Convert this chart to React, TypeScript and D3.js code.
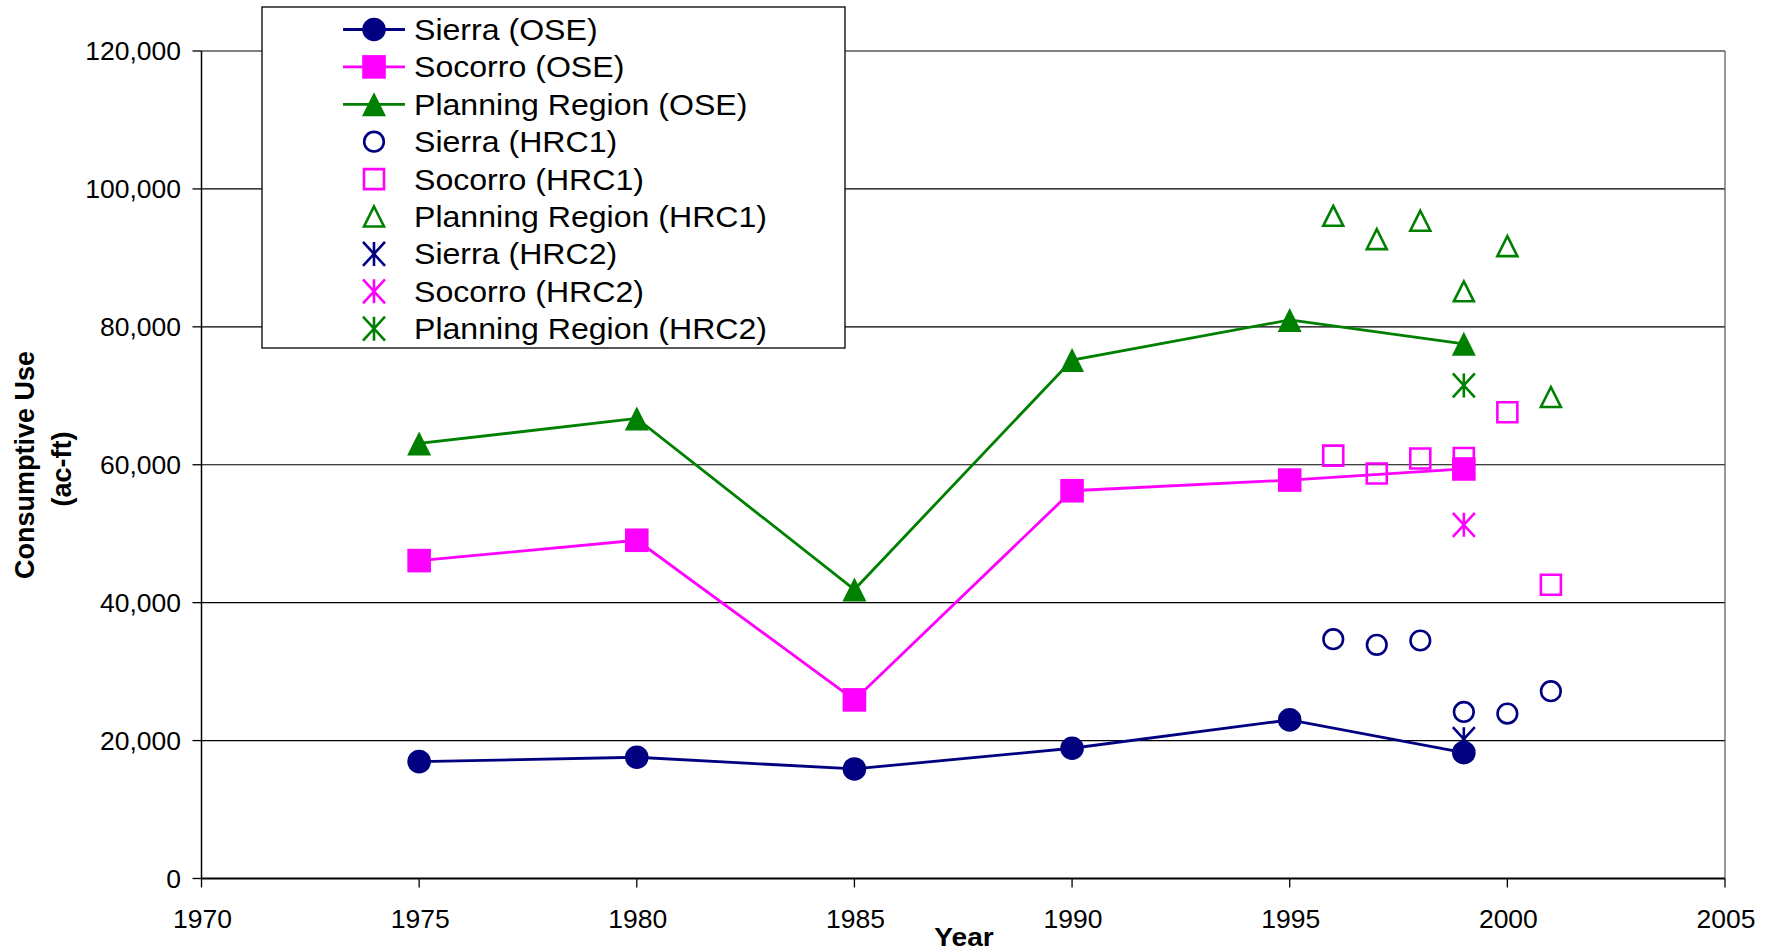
import React from "react";
import * as d3 from "d3";

// ---- data ----
const oseYears = [1975, 1980, 1985, 1990, 1995, 1999];
const sierraOSE = [16950, 17580, 15890, 18890, 23000, 18250];
const socorroOSE = [46100, 49050, 25900, 56230, 57780, 59390];
const planningOSE = [63090, 66720, 41910, 75190, 81000, 77530];

const hrc1Years = [1996, 1997, 1998, 1999, 2000, 2001];
const sierraHRC1 = [34710, 33880, 34510, 24160, 23920, 27160];
const socorroHRC1 = [61330, 58740, 60900, 60970, 67620, 42590];
const planningHRC1 = [96100, 92720, 95380, 85150, 91700, 69820];

const hrc2Years = [1999];
const sierraHRC2 = [20200];
const socorroHRC2 = [51290];
const planningHRC2 = [71510];

const xTicks = [1970, 1975, 1980, 1985, 1990, 1995, 2000, 2005];
const yTicks = [0, 20000, 40000, 60000, 80000, 100000, 120000];

const legendLabels = [
  "Sierra (OSE)",
  "Socorro (OSE)",
  "Planning Region (OSE)",
  "Sierra (HRC1)",
  "Socorro (HRC1)",
  "Planning Region (HRC1)",
  "Sierra (HRC2)",
  "Socorro (HRC2)",
  "Planning Region (HRC2)",
];

const NAVY = "#000080";
const MAGENTA = "#FF00FF";
const GREEN = "#008000";

type Shape = "circle" | "square" | "triangle";

const W = 1775;
const H = 951;
const FONT = "'Liberation Sans', Arial, sans-serif";

const x = d3.scaleLinear().domain([1970, 2005]).range([201.5, 1725]);
const y = d3.scaleLinear().domain([0, 120000]).range([878.5, 51]);

function markerPath(shape: Shape, filled: boolean): string {
  const p = d3.path();
  if (shape === "circle") {
    const r = filled ? 11.8 : 9.8;
    p.arc(0, 0, r, 0, Math.PI * 2);
  } else if (shape === "square") {
    const h = filled ? 11.8 : 10;
    p.rect(-h, -h, 2 * h, 2 * h);
  } else {
    const h = filled ? 12 : 10;
    p.moveTo(0, -h);
    p.lineTo(h, h);
    p.lineTo(-h, h);
    p.closePath();
  }
  return p.toString();
}

function Marker({ cx, cy, shape, filled, color }: { cx: number; cy: number; shape: Shape; filled: boolean; color: string }) {
  return (
    <path
      d={markerPath(shape, filled)}
      transform={`translate(${cx},${cy})`}
      fill={filled ? color : "none"}
      stroke={color}
      strokeWidth={filled ? 0 : 2.6}
    />
  );
}

function Star({ cx, cy, color }: { cx: number; cy: number; color: string }) {
  const hw = 11;
  const hh = 12;
  const p = d3.path();
  p.moveTo(-hw, -hh);
  p.lineTo(hw, hh);
  p.moveTo(hw, -hh);
  p.lineTo(-hw, hh);
  p.moveTo(0, -hh);
  p.lineTo(0, hh);
  return <path d={p.toString()} transform={`translate(${cx},${cy})`} stroke={color} strokeWidth={2.6} fill="none" />;
}

function SText({ x, y, sx, anchor, size, weight, children }: { x: number; y: number; sx: number; anchor?: string; size: number; weight?: string; children: React.ReactNode }) {
  return (
    <text
      transform={`translate(${x},${y}) scale(${sx},1)`}
      textAnchor={anchor || "start"}
      fontFamily={FONT}
      fontSize={size}
      fontWeight={weight || "normal"}
      fill="#000"
    >
      {children}
    </text>
  );
}

const line = d3
  .line<[number, number]>()
  .x((d) => x(d[0]))
  .y((d) => y(d[1]));

export default function App() {
  const oseSeries = [
    { vals: sierraOSE, color: NAVY, shape: "circle" as Shape },
    { vals: socorroOSE, color: MAGENTA, shape: "square" as Shape },
    { vals: planningOSE, color: GREEN, shape: "triangle" as Shape },
  ];
  const hrc1Series = [
    { vals: sierraHRC1, color: NAVY, shape: "circle" as Shape },
    { vals: socorroHRC1, color: MAGENTA, shape: "square" as Shape },
    { vals: planningHRC1, color: GREEN, shape: "triangle" as Shape },
  ];
  const hrc2Series = [
    { vals: sierraHRC2, color: NAVY },
    { vals: socorroHRC2, color: MAGENTA },
    { vals: planningHRC2, color: GREEN },
  ];

  const [x0, x1] = x.range();
  const [y0, y1] = y.range();

  const legX = 262;
  const legY = 7;
  const legW = 583;
  const legH = 341;
  const rowY0 = 29.5;
  const rowStep = 37.4;
  const symX = 374;

  return (
    <svg
      width={W}
      height={H}
      viewBox={`0 0 ${W} ${H}`}
      style={{ position: "absolute", left: 0, top: 0, display: "block", background: "#fff" }}
    >
      <rect x={0} y={0} width={W} height={H} fill="#fff" />
      {/* gridlines */}
      {yTicks.map((t) => (
        <line key={"g" + t} x1={x0} x2={x1} y1={y(t)} y2={y(t)} stroke="#000" strokeWidth={1.1} />
      ))}
      {/* plot border right */}
      <line x1={x1} x2={x1} y1={y1} y2={y0} stroke="#555" strokeWidth={1.2} />
      {/* axes */}
      <line x1={x0} x2={x0} y1={y1} y2={y0} stroke="#000" strokeWidth={1.5} />
      <line x1={x0} x2={x1} y1={y0} y2={y0} stroke="#000" strokeWidth={2} />
      {yTicks.map((t) => (
        <g key={"yt" + t}>
          <line x1={x0 - 9} x2={x0} y1={y(t)} y2={y(t)} stroke="#000" strokeWidth={1.3} />
          <SText x={181} y={y(t) + 9} sx={1} anchor="end" size={26.5}>
            {d3.format(",")(t)}
          </SText>
        </g>
      ))}
      {xTicks.map((t) => (
        <g key={"xt" + t}>
          <line x1={x(t)} x2={x(t)} y1={y0} y2={y0 + 9} stroke="#000" strokeWidth={1.3} />
          <SText x={x(t) + 1} y={928} sx={1} anchor="middle" size={26.5}>
            {t}
          </SText>
        </g>
      ))}
      {/* axis titles */}
      <SText x={964} y={946} sx={1.08} anchor="middle" size={26} weight="bold">
        Year
      </SText>
      <g transform="translate(25,465) rotate(-90)">
        <text x={0} y={9} textAnchor="middle" fontFamily={FONT} fontSize={27} fontWeight="bold" fill="#000">
          Consumptive Use
        </text>
        <text x={-4} y={46} textAnchor="middle" fontFamily={FONT} fontSize={27} fontWeight="bold" fill="#000">
          (ac-ft)
        </text>
      </g>

      {/* HRC1 markers */}
      {hrc1Series.map((s, i) =>
        s.vals.map((v, j) => (
          <Marker key={`h1-${i}-${j}`} cx={x(hrc1Years[j])} cy={y(v)} shape={s.shape} filled={false} color={s.color} />
        ))
      )}
      {/* HRC2 markers */}
      {hrc2Series.map((s, i) =>
        s.vals.map((v, j) => <Star key={`h2-${i}-${j}`} cx={x(hrc2Years[j])} cy={y(v)} color={s.color} />)
      )}
      {/* OSE lines + markers */}
      {oseSeries.map((s, i) => (
        <g key={"ose" + i}>
          <path
            d={line(oseYears.map((yr, j) => [yr, s.vals[j]] as [number, number])) || ""}
            fill="none"
            stroke={s.color}
            strokeWidth={2.8}
          />
          {s.vals.map((v, j) => (
            <Marker key={j} cx={x(oseYears[j])} cy={y(v)} shape={s.shape} filled={true} color={s.color} />
          ))}
        </g>
      ))}

      {/* legend */}
      <rect x={legX} y={legY} width={legW} height={legH} fill="#fff" stroke="#000" strokeWidth={1.3} />
      {legendLabels.map((lab, i) => {
        const cy = rowY0 + i * rowStep;
        const group = Math.floor(i / 3);
        const k = i % 3;
        const color = [NAVY, MAGENTA, GREEN][k];
        const shape = (["circle", "square", "triangle"] as Shape[])[k];
        return (
          <g key={"leg" + i}>
            {group === 0 && <line x1={343} x2={405} y1={cy} y2={cy} stroke={color} strokeWidth={2.8} />}
            {group === 0 && <Marker cx={symX} cy={cy} shape={shape} filled={true} color={color} />}
            {group === 1 && <Marker cx={symX} cy={cy} shape={shape} filled={false} color={color} />}
            {group === 2 && <Star cx={symX} cy={cy} color={color} />}
            <SText x={414} y={cy + 10.5} sx={1.07} size={30}>
              {lab}
            </SText>
          </g>
        );
      })}
    </svg>
  );
}
